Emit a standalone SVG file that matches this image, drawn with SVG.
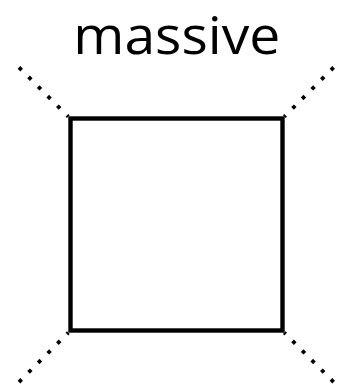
<svg xmlns="http://www.w3.org/2000/svg" width="340" height="386" viewBox="0 0 340 386">
<style>
.lbl{font-family:"Open Sans","DejaVu Sans",sans-serif;font-weight:400;font-size:51px;fill:#000}
.box{fill:none;stroke:#000;stroke-width:4.4}
.dot{fill:none;stroke:#000;stroke-width:3.8;stroke-linecap:butt;stroke-dasharray:3.8 9.776;stroke-dashoffset:1.9}
</style>
<rect width="340" height="386" fill="#fff"/>
<g id="connectors">
<path class="dot" d="M68.3,116.7 L18.95,67.35"/>
<path class="dot" d="M284.3,116.7 L333.65,67.35"/>
<path class="dot" d="M68.3,332.7 L18.95,382.05"/>
<path class="dot" d="M284.3,332.7 L333.65,382.05"/>
</g>
<g id="massive">
<rect class="box" x="70.5" y="118.5" width="212" height="212"/>
<text class="lbl" x="73.3" y="54" textLength="207" lengthAdjust="spacingAndGlyphs">massive</text>
</g>
</svg>
